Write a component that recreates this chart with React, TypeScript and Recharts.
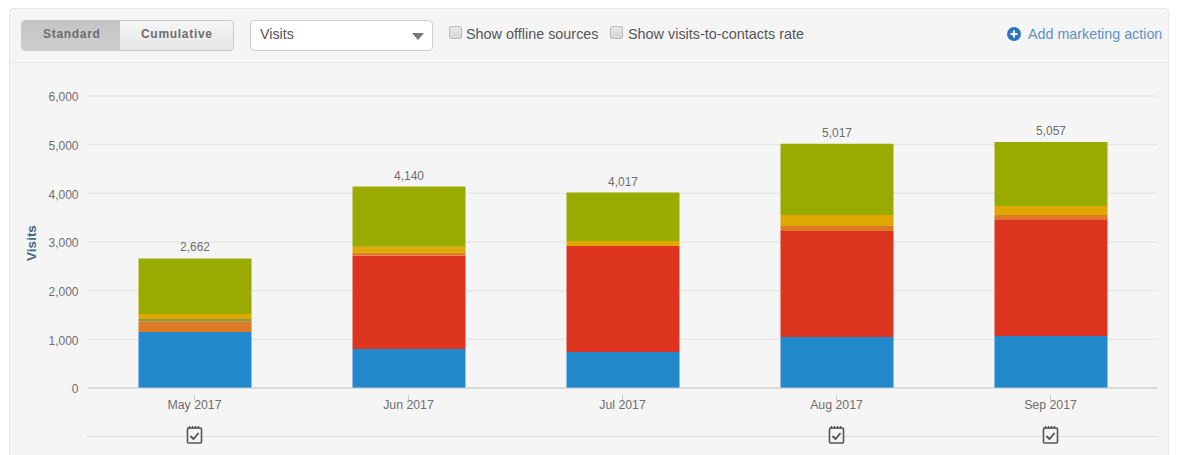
import { BarChart, Bar, XAxis, YAxis, CartesianGrid, LabelList } from "recharts"

const months = ["May 2017", "Jun 2017", "Jul 2017", "Aug 2017", "Sep 2017"]
const direct = [1150, 800, 740, 1050, 1070]
const referrals = [0, 1918, 2178, 2175, 2400]
const social = [220, 62, 0, 105, 85]
const email = [48, 0, 0, 0, 0]
const paid = [102, 120, 102, 225, 185]
const organic = [1142, 1240, 997, 1462, 1317]
const totals = [2662, 4140, 4017, 5017, 5057]
const yTicks = [0, 1000, 2000, 3000, 4000, 5000, 6000]
const monthsWithActions = ["May 2017", "Aug 2017", "Sep 2017"]

const chartData = months.map((month, i) => ({
  month,
  direct: direct[i],
  referrals: referrals[i],
  social: social[i],
  email: email[i],
  paid: paid[i],
  organic: organic[i],
  total: totals[i],
}))

const font = "'Liberation Sans', Arial, sans-serif"
const axisGrey = "#6e6e6e"

function MonthTick({ x, y, payload }: any) {
  return (
    <g>
      <line x1={x} x2={x} y1={y - 1} y2={y + 4} stroke="#c8c8c8" />
      <text x={x} y={y + 13} textAnchor="middle" fontSize={12.3} fontFamily={font} fill={axisGrey}>
        {payload.value}
      </text>
      {monthsWithActions.includes(payload.value) && (
        <g transform={`translate(${x - 7.5}, ${y + 30})`} fill="none" stroke="#555" strokeWidth={1.6}>
          <rect x={0.5} y={2} width={14} height={15} rx={1} fill="#f5f5f5" />
          <path d="M2.5 0v3M5.5 0v3M8.5 0v3M11.5 0v3" strokeWidth={1.4} />
          <path d="M3.5 10l3 3 5-6" strokeWidth={1.9} />
        </g>
      )}
    </g>
  )
}

function CheckBox({ left }: { left: number }) {
  return (
    <div
      style={{
        position: "absolute",
        left,
        top: 26,
        width: 11,
        height: 11,
        border: "1px solid #bbb",
        borderRadius: 2,
        background: "linear-gradient(#e8e8e8, #d6d6d6)",
      }}
    />
  )
}

function Caption({ left, top, size, color, children, spacing }: any) {
  return (
    <div
      style={{
        position: "absolute",
        left,
        top,
        fontSize: size,
        color,
        letterSpacing: spacing,
        lineHeight: "16px",
        whiteSpace: "nowrap",
      }}
    >
      {children}
    </div>
  )
}

export default function App() {
  return (
    <div
      style={{
        position: "absolute",
        left: 0,
        top: 0,
        width: 1177,
        height: 455,
        background: "#fff",
        overflow: "hidden",
        fontFamily: font,
      }}
    >
      {/* panel */}
      <div
        style={{
          position: "absolute",
          left: 9,
          top: 8,
          width: 1158,
          height: 460,
          background: "#f5f5f5",
          border: "1px solid #e6e6e6",
          borderRadius: 4,
        }}
      />
      <div style={{ position: "absolute", left: 10, top: 62, width: 1158, height: 1, background: "#e8e8e8" }} />

      {/* view toggle */}
      <div
        style={{
          position: "absolute",
          left: 21,
          top: 20,
          width: 213,
          height: 31,
          border: "1px solid #c9c9c9",
          borderRadius: 4,
          background: "linear-gradient(#f6f6f6, #e6e6e6)",
          overflow: "hidden",
          boxSizing: "border-box",
        }}
      >
        <div style={{ width: 98, height: 31, background: "linear-gradient(#c4c4c4, #cfcfcf)" }} />
      </div>
      <Caption left={43} top={26} size={12} color={axisGrey} spacing={0.7}>
        <b style={{ fontWeight: 700 }}>Standard</b>
      </Caption>
      <Caption left={141} top={26} size={12} color={axisGrey} spacing={0.7}>
        <b style={{ fontWeight: 700 }}>Cumulative</b>
      </Caption>

      {/* metric select */}
      <div
        style={{
          position: "absolute",
          left: 250,
          top: 20,
          width: 183,
          height: 31,
          boxSizing: "border-box",
          border: "1px solid #cfcfcf",
          borderRadius: 4,
          background: "#fff",
        }}
      />
      <Caption left={260} top={26} size={14.3} color="#555">
        Visits
      </Caption>
      <svg style={{ position: "absolute", left: 411, top: 32 }} width={14} height={8}>
        <path d="M1 1h12l-6 7z" fill="#777" />
      </svg>

      <CheckBox left={449} />
      <Caption left={466} top={26} size={14.4} color="#555">
        Show offline sources
      </Caption>
      <CheckBox left={610} />
      <Caption left={628} top={26} size={14.4} color="#555">
        Show visits-to-contacts rate
      </Caption>

      <svg style={{ position: "absolute", left: 1007, top: 27 }} width={14} height={14}>
        <circle cx={7} cy={7} r={7} fill="#2f75bd" />
        <path d="M7 3.5v7M3.5 7h7" stroke="#fff" strokeWidth={2} />
      </svg>
      <Caption left={1028} top={26} size={14.3} color="#5d93c5">
        Add marketing action
      </Caption>

      {/* rule under the action markers */}
      <div style={{ position: "absolute", left: 87, top: 436, width: 1071, height: 1, background: "#dedede" }} />

      <div style={{ position: "absolute", left: 0, top: 0 }}>
        <BarChart
          width={1177}
          height={455}
          data={chartData}
          margin={{ top: 96, right: 19.5, bottom: 0, left: 47.5 }}
          barSize={113}
        >
          <CartesianGrid vertical={false} stroke="#e2e2e2" />
          <XAxis
            dataKey="month"
            height={67}
            axisLine={{ stroke: "#c8c8c8" }}
            tickLine={false}
            tick={<MonthTick />}
            interval={0}
          />
          <YAxis
            width={40}
            domain={[0, 6000]}
            ticks={yTicks}
            axisLine={false}
            tickLine={false}
            tickMargin={3}
            tickFormatter={(v: number) => v.toLocaleString("en-US")}
            tick={{ fontSize: 12, fill: axisGrey, fontFamily: font, dy: 1 }}
          />
          <Bar dataKey="direct" stackId="visits" fill="#2188cb" isAnimationActive={false} />
          <Bar dataKey="referrals" stackId="visits" fill="#dd3420" isAnimationActive={false} />
          <Bar dataKey="social" stackId="visits" fill="#dd7a26" isAnimationActive={false} />
          <Bar dataKey="email" stackId="visits" fill="#8a9a40" isAnimationActive={false} />
          <Bar dataKey="paid" stackId="visits" fill="#dfa700" isAnimationActive={false} />
          <Bar dataKey="organic" stackId="visits" fill="#9aab00" isAnimationActive={false}>
            <LabelList
              dataKey="total"
              position="top"
              offset={7}
              formatter={(v: number) => v.toLocaleString("en-US")}
              style={{ fontSize: 12, fill: axisGrey, fontFamily: font }}
            />
          </Bar>
        </BarChart>
      </div>

      {/* axis title */}
      <div
        style={{
          position: "absolute",
          left: 31,
          top: 243,
          transform: "translate(-50%, -50%) rotate(-90deg)",
          fontSize: 13.5,
          fontWeight: 700,
          color: "#44678a",
        }}
      >
        Visits
      </div>
    </div>
  )
}
